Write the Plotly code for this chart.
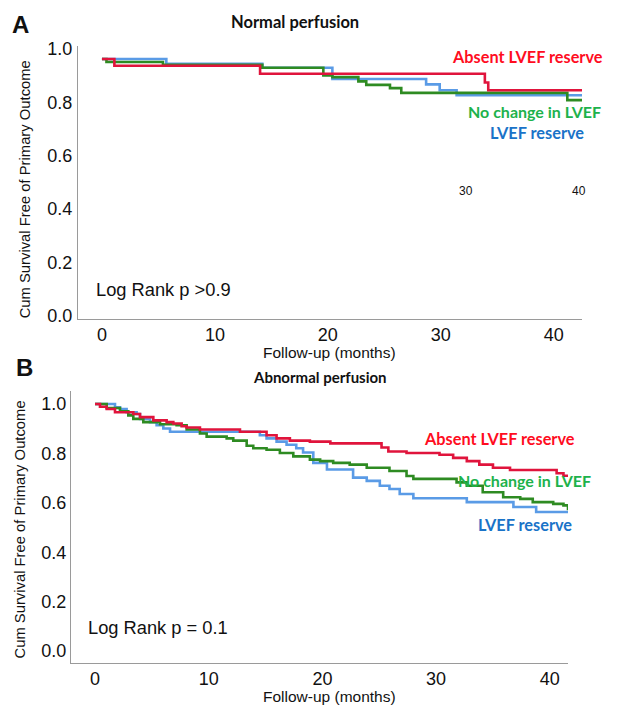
import plotly.graph_objects as go

W, H = 617, 713

# ---------------- Data ----------------
# Panel A: Normal perfusion  (time in months, survival after each step)
a_absent_t = [0, 1.1, 14.0, 33.9, 34.2, 42.5]
a_absent_s = [0.963, 0.9375, 0.908, 0.875, 0.846, 0.846]

a_nochange_t = [0, 0.4, 5.4, 14.2, 19.6, 20.4, 22.7, 23.4, 25.5, 26.5, 41.2, 42.5]
a_nochange_s = [0.963, 0.952, 0.941, 0.930, 0.901, 0.895, 0.879, 0.866, 0.854, 0.836, 0.809, 0.809]

a_reserve_t = [0, 5.7, 14.2, 20.4, 28.7, 29.9, 31.4, 42.5]
a_reserve_s = [0.963, 0.945, 0.930, 0.888, 0.868, 0.846, 0.827, 0.827]

# Panel B: Abnormal perfusion
b_absent_t = [0, 0.44, 1.03, 1.76, 3.37, 3.96, 5.13, 6.30, 6.89, 7.62, 8.06, 9.23, 12.75,
              15.09, 15.97, 17.14, 18.9, 20.7, 25.2, 25.8, 27.4, 30.3, 31.5, 32.7, 33.8,
              35.0, 36.5, 40.6, 41.2, 41.6]
b_absent_s = [1.0, 0.989, 0.980, 0.967, 0.960, 0.947, 0.934, 0.927, 0.921, 0.910, 0.905, 0.897, 0.888,
              0.874, 0.861, 0.852, 0.848, 0.841, 0.824, 0.808, 0.802, 0.795, 0.782, 0.769, 0.755,
              0.742, 0.733, 0.720, 0.710, 0.706]

b_nochange_t = [0, 1.03, 2.2, 2.93, 3.37, 4.25, 5.72, 7.18, 8.06, 9.23, 9.82, 11.58, 12.16,
                13.34, 13.92, 15.09, 16.26, 17.44, 18.9, 19.8, 20.95, 22.4, 23.9, 25.9, 27.4,
                28.0, 31.8, 32.7, 34.1, 35.9, 37.4, 38.5, 40.3, 41.2, 41.6]
b_nochange_s = [1.0, 0.984, 0.971, 0.954, 0.940, 0.927, 0.918, 0.914, 0.897, 0.881, 0.868, 0.861, 0.852,
                0.831, 0.821, 0.815, 0.802, 0.788, 0.775, 0.769, 0.762, 0.755, 0.742, 0.729, 0.709,
                0.697, 0.683, 0.669, 0.643, 0.623, 0.616, 0.603, 0.596, 0.590, 0.570]

b_reserve_t = [0, 1.76, 2.2, 2.78, 3.66, 3.96, 4.84, 5.42, 6.01, 6.6, 14.5, 15.09, 15.97,
               16.85, 17.7, 18.3, 19.2, 20.4, 22.7, 23.9, 25.05, 25.9, 26.8, 28.0, 32.7,
               36.8, 38.8, 41.6]
b_reserve_s = [1.0, 0.987, 0.980, 0.967, 0.960, 0.940, 0.927, 0.914, 0.901, 0.888, 0.874, 0.861, 0.848,
               0.835, 0.821, 0.804, 0.762, 0.735, 0.702, 0.689, 0.669, 0.656, 0.636, 0.619, 0.603,
               0.583, 0.563, 0.563]

x_ticks = [0, 10, 20, 30, 40]
y_ticks = [0.0, 0.2, 0.4, 0.6, 0.8, 1.0]
y_tick_text = ["0.0", "0.2", "0.4", "0.6", "0.8", "1.0"]

# ---------------- Styles ----------------
RED_L, GREEN_L, BLUE_L = "#e0143c", "#2e8b22", "#5a9be6"
RED_T, GREEN_T, BLUE_T = "#ff0d1f", "#1db24b", "#1a73c8"
ARIAL = "Liberation Sans, Arial, sans-serif"
CAL = "Lato, Open Sans, sans-serif"

def px(x):
    return x / W

def py(y):
    return 1 - y / H

fig = go.Figure()

def add_curve(t, s, color, xa, ya):
    fig.add_trace(go.Scatter(x=t, y=s, mode="lines", line=dict(color=color, width=2.6, shape="hv"),
                             xaxis=xa, yaxis=ya, showlegend=False, hoverinfo="skip"))

add_curve(a_reserve_t, a_reserve_s, BLUE_L, "x", "y")
add_curve(a_nochange_t, a_nochange_s, GREEN_L, "x", "y")
add_curve(a_absent_t, a_absent_s, RED_L, "x", "y")
add_curve(b_reserve_t, b_reserve_s, BLUE_L, "x2", "y2")
add_curve(b_nochange_t, b_nochange_s, GREEN_L, "x2", "y2")
add_curve(b_absent_t, b_absent_s, RED_L, "x2", "y2")

axis_common = dict(showline=True, linecolor="#9a9a9a", linewidth=1, showgrid=False, zeroline=False,
                   ticks="", tickfont=dict(family=ARIAL, size=18, color="#111"), fixedrange=True)

fig.update_layout(
    width=W, height=H, margin=dict(l=0, r=0, t=0, b=0),
    paper_bgcolor="white", plot_bgcolor="white", showlegend=False,
    xaxis=dict(domain=[px(78), px(582)], range=[-2.12, 42.5], tickvals=x_ticks, anchor="y",
               ticklabelstandoff=0, **axis_common),
    yaxis=dict(domain=[py(318), py(40)], range=[-0.011, 1.011], tickvals=y_ticks, ticktext=y_tick_text,
               anchor="x", ticklabelstandoff=1, **axis_common),
    xaxis2=dict(domain=[px(71), px(568)], range=[-2.11, 41.6], tickvals=x_ticks, anchor="y2",
                ticklabelstandoff=0, **axis_common),
    yaxis2=dict(domain=[py(669), py(392)], range=[-0.0476, 1.0516], tickvals=y_ticks, ticktext=y_tick_text,
                anchor="x2", ticklabelstandoff=0, **axis_common),
)

def ann(text, x, y, size, color="#111", family=ARIAL, bold=False, angle=0, xanchor="center"):
    t = f"<b>{text}</b>" if bold else text
    fig.add_annotation(text=t, x=px(x), y=py(y), xref="paper", yref="paper", showarrow=False,
                       xanchor=xanchor, yanchor="middle", textangle=angle,
                       font=dict(family=family, size=size, color=color))

# Panel A texts
ann("A", 10, 18, 24, bold=True, xanchor="left")
ann("Normal perfusion", 295, 15, 16.5, family=CAL, bold=True)
ann("Absent LVEF reserve", 605, 50, 16.3, color=RED_T, family=CAL, bold=True, xanchor="right")
ann("No change in LVEF", 603, 107, 16, color=GREEN_T, family=CAL, bold=True, xanchor="right")
ann("LVEF reserve", 586, 128, 16.3, color=BLUE_T, family=CAL, bold=True, xanchor="right")
ann("30", 466, 188, 12)
ann("40", 579, 188, 12)
ann("Log Rank p &gt;0.9", 94, 288, 18.3, xanchor="left")
ann("Cum Survival Free of Primary Outcome", 25, 186, 14.8, angle=-90)
ann("Follow-up (months)", 329, 352, 15.5)

# Panel B texts
ann("B", 14, 368, 24, bold=True, xanchor="left")
ann("Abnormal perfusion", 320, 377, 15, family=CAL, bold=True)
ann("Absent LVEF reserve", 577, 440, 16.3, color=RED_T, family=CAL, bold=True, xanchor="right")
ann("No change in LVEF", 593, 483, 16, color=GREEN_T, family=CAL, bold=True, xanchor="right")
ann("LVEF reserve", 574, 528, 16.3, color=BLUE_T, family=CAL, bold=True, xanchor="right")
ann("Log Rank p = 0.1", 86, 633, 18.3, xanchor="left")
ann("Cum Survival Free of Primary Outcome", 20, 533, 14.8, angle=-90)
ann("Follow-up (months)", 329, 703, 15.5)

fig.write_html("out.html", config={"displayModeBar": False},
               post_script="document.body.style.margin='0';document.body.style.overflow='hidden';")
